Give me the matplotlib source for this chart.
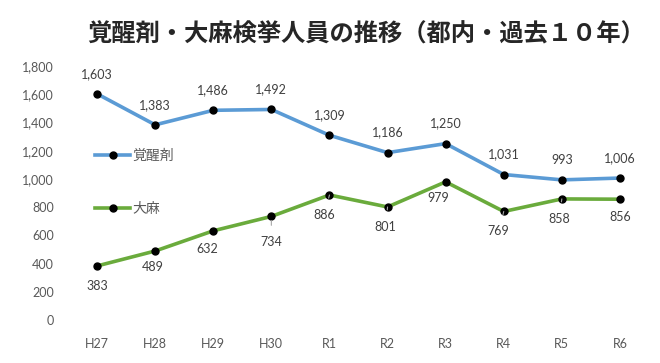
import matplotlib
matplotlib.use("Agg")
import matplotlib.pyplot as plt
from matplotlib.lines import Line2D

categories = ["H27", "H28", "H29", "H30", "R1", "R2", "R3", "R4", "R5", "R6"]
stimulants = [1603, 1383, 1486, 1492, 1309, 1186, 1250, 1031, 993, 1006]
cannabis = [383, 489, 632, 734, 886, 801, 979, 769, 858, 856]
yticks = [0, 200, 400, 600, 800, 1000, 1200, 1400, 1600, 1800]
title = "覚醒剤・大麻検挙人員の推移（都内・過去１０年）"
series_names = ["覚醒剤", "大麻"]

# label offsets (pixels) for cannabis labels below the points
green_dx = [0, -2, -6, 0, -5, -2, -7, -5, -3, 0]
green_dy = [-20, -16, -18, -26, -20, -20, -16, -20, -20, -18]
green_leader = [False, False, False, True, True, True, False, True, True, False]

blue_c = "#5B9BD5"
green_c = "#6AAB3C"
text_c = "#404040"
tick_c = "#595959"

plt.rcParams['font.family'] = ['Lato', 'Noto Sans CJK JP', 'DejaVu Sans']

fig = plt.figure(figsize=(6.6, 3.63), dpi=100)
ax = fig.add_axes([68/660, 43/363, 581/660, 254/363])

x = list(range(len(categories)))
ax.plot(x, stimulants, color=blue_c, lw=2.6, marker='o', ms=5,
        mfc='black', mec='black', solid_capstyle='round', zorder=3)
ax.plot(x, cannabis, color=green_c, lw=2.6, marker='o', ms=5,
        mfc='black', mec='black', solid_capstyle='round', zorder=3)

for xi, v in zip(x, stimulants):
    ax.annotate(f"{v:,}", (xi, v), xytext=(0, 20), textcoords='offset pixels',
                ha='center', va='center', fontsize=9, color=text_c)
for xi, v, dx, dy, ld in zip(x, cannabis, green_dx, green_dy, green_leader):
    kw = {}
    if ld:
        kw['arrowprops'] = dict(arrowstyle='-', color='#A6A6A6', lw=0.8,
                                shrinkA=6, shrinkB=3)
    ax.annotate(f"{v:,}", (xi, v), xytext=(dx, dy), textcoords='offset pixels',
                ha='center', va='center', fontsize=9, color=text_c, **kw)

ax.set_xlim(-0.5, len(categories) - 0.5)
ax.set_ylim(0, 1800)
ax.set_xticks(x)
ax.set_xticklabels(categories)
ax.set_yticks(yticks)
ax.set_yticklabels([f"{t:,}" for t in yticks])
ax.tick_params(axis='both', length=0, labelsize=9, labelcolor=tick_c)
ax.tick_params(axis='x', pad=13)
ax.tick_params(axis='y', pad=10)
for s in ax.spines.values():
    s.set_visible(False)

# legend drawn inside the plot (left side)
handles = [Line2D([], [], color=blue_c, lw=2.6, marker='o', ms=5, mfc='black', mec='black'),
           Line2D([], [], color=green_c, lw=2.6, marker='o', ms=5, mfc='black', mec='black')]
leg = ax.legend(handles, series_names, loc='upper left', bbox_to_anchor=(0.040, 0.689),
                frameon=False, handlelength=2.5, handletextpad=0.15, labelspacing=2.8,
                borderaxespad=0, borderpad=0.3,
                prop={'family': ['Noto Sans CJK JP'], 'size': 10})
for t in leg.get_texts():
    t.set_color(tick_c)

fig.text(0.555, 0.905, title, ha='center', va='center', fontsize=17.5,
         fontweight='bold', family=['Noto Sans CJK JP'], color='#262626')

fig.savefig("out.png", dpi=100, facecolor='white')
